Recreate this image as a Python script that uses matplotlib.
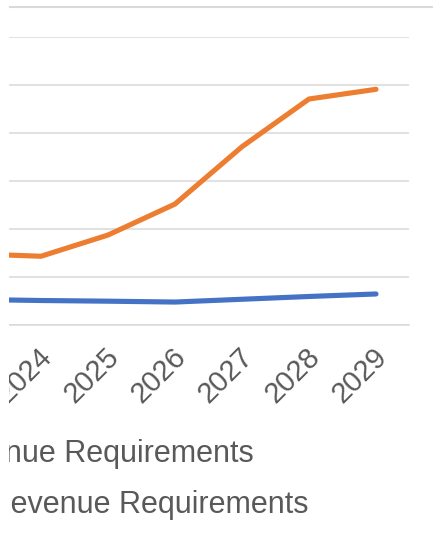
import matplotlib.pyplot as plt
from matplotlib.lines import Line2D
from matplotlib.patches import Rectangle
import matplotlib.transforms as mtransforms

years = ['2023', '2024', '2025', '2026', '2027', '2028', '2029']
base_req = [26.3, 25.2, 24.5, 23.6, 26.5, 29.4, 32.0]
proposed_req = [73.8, 71.3, 93.4, 125.7, 185.4, 235.1, 245.2]
series_names = ['Base Revenue Requirements', 'Proposed Revenue Requirements']
colors = ['#4472C4', '#ED7D31']

plt.rcParams['font.family'] = ['Liberation Sans', 'DejaVu Sans']

W, H = 433, 537
fig = plt.figure(figsize=(W / 100, H / 100), dpi=100)

# plot area runs past the left edge (chart is cropped)
left_px, right_px = -59.5, 409.5
bottom_px, top_px = 324.7, 36.7
ax = fig.add_axes([left_px / W, 1 - bottom_px / H,
                   (right_px - left_px) / W, (bottom_px - top_px) / H])

x = list(range(len(years)))
ax.plot(x, base_req, color=colors[0], lw=3.7, solid_capstyle='round',
        solid_joinstyle='round', zorder=3)
ax.plot(x, proposed_req, color=colors[1], lw=3.7, solid_capstyle='round',
        solid_joinstyle='round', zorder=3)

ax.set_xlim(-0.5, len(years) - 0.5)
ax.set_ylim(0, 300)
ax.set_yticks(range(0, 301, 50))
ax.yaxis.grid(True, color='#D9D9D9', lw=1.1)
ax.set_axisbelow(True)
ax.tick_params(axis='y', left=False, labelleft=False)
ax.tick_params(axis='x', length=0, pad=20, labelsize=21, colors='#595959')
for s in ['top', 'right', 'left']:
    ax.spines[s].set_visible(False)
ax.spines['bottom'].set_color('#D9D9D9')
ax.spines['bottom'].set_linewidth(1.1)

ax.set_xticks(x)
ax.set_xticklabels(years, rotation=45, ha='right', va='center',
                   rotation_mode='anchor')
off = mtransforms.ScaledTranslation(7 / 100, 0, fig.dpi_scale_trans)
for lab in ax.get_xticklabels():
    lab.set_transform(lab.get_transform() + off)

# chart frame line at the top
fig.add_artist(Line2D([9 / W, 1], [1 - 6.7 / H, 1 - 6.7 / H],
                      color='#D9D9D9', lw=1.5, transform=fig.transFigure))

# legend entries (markers are outside the visible area)
leg_right = [253.5, 308.5]
leg_base = [461.7, 513.3]
for name, xr, yb in zip(series_names, leg_right, leg_base):
    fig.text(xr / W, 1 - yb / H, name, ha='right', va='baseline',
             fontsize=22, color='#595959')

# white strip on the left edge of the crop
fig.add_artist(Rectangle((0, 0), 9 / W, 1, transform=fig.transFigure,
                         facecolor='white', edgecolor='none', zorder=10))

fig.savefig('out.png', dpi=100)
